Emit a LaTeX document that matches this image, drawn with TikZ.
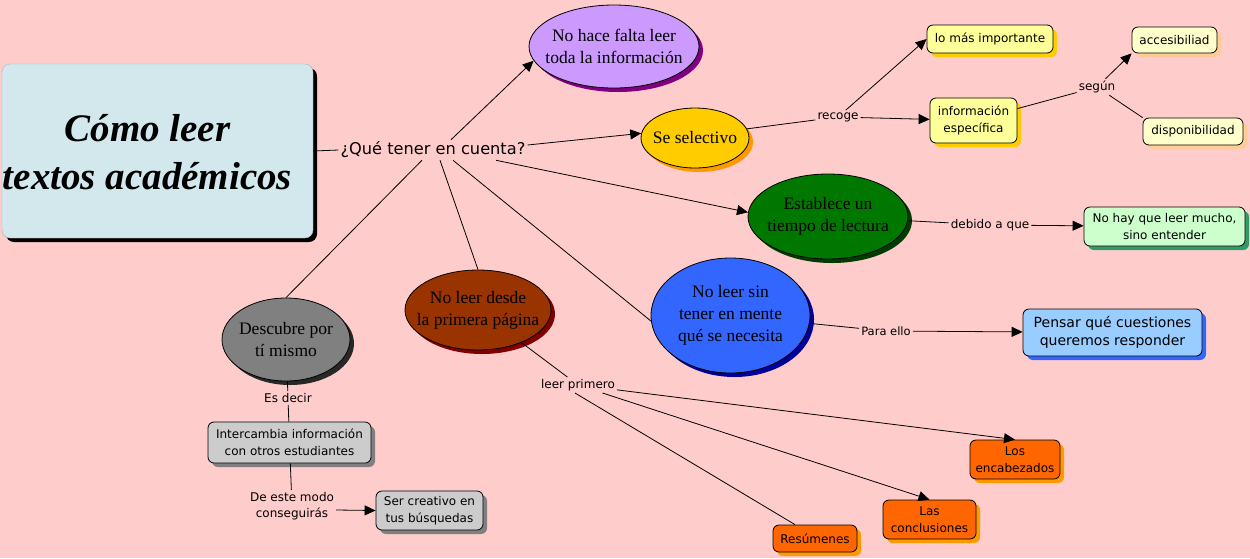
\documentclass[tikz,border=0pt]{standalone}
\usepackage{fontspec}
\setmainfont{Liberation Serif}
\setsansfont{DejaVu Sans}
\usetikzlibrary{shapes.geometric,arrows.meta,shadows}
\definecolor{bg}{RGB}{255,204,204}
\definecolor{titlebg}{RGB}{210,232,236}
\definecolor{purp}{RGB}{204,153,255}
\definecolor{purpS}{RGB}{128,0,128}
\definecolor{yel}{RGB}{255,204,0}
\definecolor{yelS}{RGB}{255,153,0}
\definecolor{grn}{RGB}{0,120,0}
\definecolor{grnS}{RGB}{0,60,0}
\definecolor{blu}{RGB}{51,102,255}
\definecolor{bluS}{RGB}{0,0,153}
\definecolor{brn}{RGB}{153,51,0}
\definecolor{brnS}{RGB}{128,0,0}
\definecolor{gry}{RGB}{128,128,128}
\definecolor{gryS}{RGB}{40,40,40}
\definecolor{ly}{RGB}{255,255,153}
\definecolor{lyS}{RGB}{255,204,0}
\definecolor{lly}{RGB}{255,255,204}
\definecolor{llyS}{RGB}{255,204,153}
\definecolor{lgrn}{RGB}{204,255,204}
\definecolor{lgrnS}{RGB}{51,153,102}
\definecolor{lblu}{RGB}{153,204,255}
\definecolor{lbluS}{RGB}{51,102,255}
\definecolor{org}{RGB}{255,102,0}
\definecolor{orgS}{RGB}{255,153,0}
\definecolor{lgry}{RGB}{204,204,204}
\definecolor{lgryS}{RGB}{128,128,128}
\begin{document}
\begin{tikzpicture}[x=1pt,y=-1pt,
  shad/.style={drop shadow={shadow xshift=4pt,shadow yshift=-4pt,fill=#1,opacity=1}},
  ell/.style={ellipse,draw=black,line width=0.8pt,inner sep=0pt},
  efont/.style={font=\fontsize{17.5}{22}\selectfont,align=center},
  cbox/.style={rectangle,rounded corners=6pt,draw=black,line width=0.8pt,inner sep=2pt,align=center,font=\sffamily\fontsize{12}{16.5}\selectfont},
  lab/.style={inner sep=2pt,align=center,font=\sffamily\fontsize{12}{16}\selectfont},
  con/.style={line width=0.8pt},
  arr/.style={con,-{Triangle[length=11pt,width=10pt]}}]
\fill[bg] (0,0) rectangle (1250,558);
\useasboundingbox (0,0) rectangle (1250,558);

% title
\node[rectangle,rounded corners=8pt,draw=gray!60,fill=titlebg,shad=black,minimum width=311pt,minimum height=174pt,
  label={[xshift=-10pt,yshift=-1pt,align=center,font=\fontsize{39}{48}\selectfont\bfseries\itshape]center:Cómo leer\\textos académicos}] (title) at (157.5,151) {};

% central label
\node[lab,font=\sffamily\fontsize{16.2}{18}\selectfont] (q) at (433,150) {¿Qué tener en cuenta?};

% ellipses
\node[ell,fill=purp,shad=purpS,minimum width=170pt,minimum height=83pt,
  label={[efont]center:No hace falta leer\\toda la información}] (noHace) at (614,46.5) {};
\node[ell,fill=yel,shad=yelS,minimum width=108pt,minimum height=60pt,
  label={[efont]center:Se selectivo}] (seSel) at (695,138) {};
\node[ell,fill=grn,shad=grnS,minimum width=160pt,minimum height=85pt,
  label={[efont]center:Establece un\\tiempo de lectura}] (establece) at (828,216.5) {};
\node[ell,fill=blu,shad=bluS,minimum width=159pt,minimum height=115pt,
  label={[efont]center:No leer sin\\tener en mente\\qué se necesita}] (noLeerSin) at (730.5,315.5) {};
\node[ell,fill=brn,shad=brnS,minimum width=146pt,minimum height=80pt,
  label={[efont]center:No leer desde\\la primera página}] (noLeerDesde) at (478,310) {};
\node[ell,fill=gry,shad=gryS,minimum width=128pt,minimum height=83pt,
  label={[efont]center:Descubre por\\tí mismo}] (descubre) at (286,339.5) {};

% concept boxes
\node[cbox,fill=ly,shad=lyS,minimum width=126pt,minimum height=28pt] (loMas) at (990,39) {lo más importante};
\node[cbox,fill=ly,shad=lyS,minimum width=87pt,minimum height=45pt] (infoEsp) at (973.5,120.5) {información\\específica};
\node[cbox,fill=lly,shad=llyS,minimum width=85pt,minimum height=26pt] (acces) at (1174.5,40) {accesibiliad};
\node[cbox,fill=lly,shad=llyS,minimum width=100pt,minimum height=27pt] (dispo) at (1193,131.5) {disponibilidad};
\node[cbox,fill=lgrn,shad=lgrnS,minimum width=161pt,minimum height=39pt] (noHay) at (1164.5,226.5) {No hay que leer mucho,\\sino entender};
\node[cbox,fill=lblu,shad=lbluS,minimum width=179pt,minimum height=47pt,font=\sffamily\fontsize{14}{18}\selectfont] (pensar) at (1112.5,332.5) {Pensar qué cuestiones\\queremos responder};
\node[cbox,fill=org,shad=orgS,minimum width=90pt,minimum height=39pt] (encab) at (1015,459.5) {Los\\encabezados};
\node[cbox,fill=org,shad=orgS,minimum width=93pt,minimum height=39pt] (concl) at (929.5,519.5) {Las\\conclusiones};
\node[cbox,fill=org,shad=orgS,minimum width=84pt,minimum height=27pt] (resu) at (815,538.5) {Resúmenes};
\node[cbox,fill=lgry,shad=lgryS,minimum width=163pt,minimum height=41pt] (inter) at (289.5,442.5) {Intercambia información\\con otros estudiantes};
\node[cbox,fill=lgry,shad=lgryS,minimum width=107pt,minimum height=39pt] (creativo) at (429.5,510.5) {Ser creativo en\\tus búsquedas};

% linking labels
\node[lab] (recoge) at (838,117) {recoge};
\node[lab] (segun) at (1097,87) {según};
\node[lab] (debido) at (990,225) {debido a que};
\node[lab,font=\sffamily\fontsize{11.5}{14}\selectfont] (para) at (886,331) {Para ello};
\node[lab] (leerPrimero) at (578,385) {leer primero};
\node[lab] (esDecir) at (288,398) {Es decir};
\node[lab] (deEste) at (292,506) {De este modo\\conseguirás};

% connectors
\draw[con] (title.east) -- (q.west);
\draw[arr] ([xshift=18pt]q.north) -- (noHace.190);
\draw[arr] ([yshift=5pt]q.east) -- (seSel.175);
\draw[arr] ([xshift=63pt]q.south) -- (establece.177);
\draw[con] ([xshift=20pt]q.south) -- (noLeerSin.184);
\draw[con] ([xshift=7pt]q.south) -- (noLeerDesde.north);
\draw[con] ([xshift=-11pt]q.south) -- (descubre.north);

\draw[con] (seSel.10) -- (recoge);
\draw[arr] (recoge) -- (infoEsp);
\draw[arr] (recoge) -- (loMas.west);
\draw[con] (infoEsp) -- (segun);
\draw[arr] (segun) -- (acces.south west);
\draw[con] (segun) -- (dispo.north west);

\draw[con] (establece) -- (debido);
\draw[arr] (debido) -- (noHay);
\draw[con] (noLeerSin) -- (para);
\draw[arr] (para) -- (pensar);

\draw[con] (noLeerDesde) -- (leerPrimero);
\draw[arr] (leerPrimero) -- (encab.north);
\draw[arr] (leerPrimero) -- (concl.north);
\draw[con] ([xshift=-3pt]leerPrimero.south) -- ([xshift=-20pt]resu.north);

\draw[con] (descubre) -- (esDecir);
\draw[con] (esDecir) -- (inter);
\draw[con] (inter) -- (deEste);
\draw[arr] ([yshift=-4pt]deEste.east) -- (creativo.west);
\end{tikzpicture}
\end{document}
